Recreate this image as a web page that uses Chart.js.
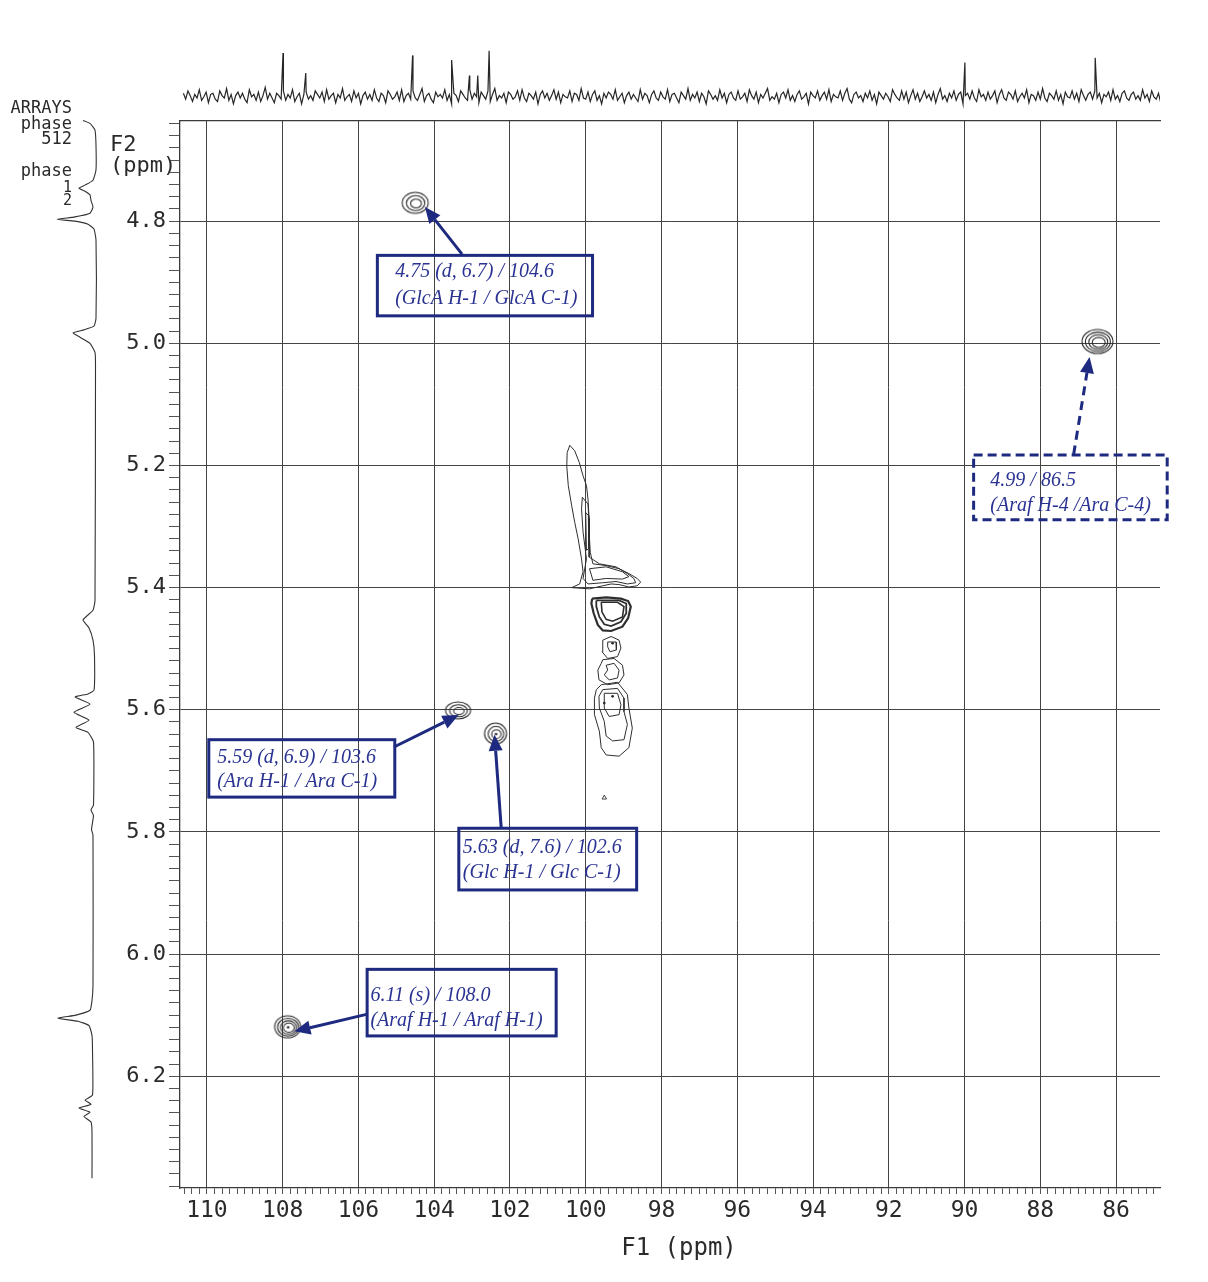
<!DOCTYPE html>
<html>
<head>
<meta charset="utf-8">
<script src="https://cdn.jsdelivr.net/npm/chart.js@4.4.1/dist/chart.umd.min.js"></script>
<style>
html,body{margin:0;padding:0;background:#ffffff;}
#wrap{position:relative;width:1208px;height:1282px;overflow:hidden;background:#ffffff;}
#wrap canvas{position:absolute;left:0;top:0;}
</style>
</head>
<body>
<div id="wrap">
<canvas id="mainChart" width="1208" height="1282"></canvas>
<canvas id="topTrace" width="1208" height="125"></canvas>
<canvas id="leftTrace" width="180" height="1282"></canvas>
</div>
<script>
// ---------------- DATA ----------------
// axis ranges (ppm)
const F1_MIN = 84.84, F1_MAX = 110.71;
const F2_MIN = 4.636, F2_MAX = 6.383;

// tick labels
const f1TickValues = [110,108,106,104,102,100,98,96,94,92,90,88,86];
const f1TickLabels = ['110','108','106','104','102','100','98','96','94','92','90','88','86'];
const f2TickValues = [4.8,5.0,5.2,5.4,5.6,5.8,6.0,6.2];
const f2TickLabels = ['4.8','5.0','5.2','5.4','5.6','5.8','6.0','6.2'];

// isolated cross peaks (F1 13C ppm, F2 1H ppm)
const peakNames = ['GlcA H-1/C-1','Araf H-4/C-4','Ara H-1/C-1','Glc H-1/C-1','Araf H-1'];
const peakF1 = [104.50, 86.49, 103.37, 102.38, 107.87];
const peakF2 = [4.770, 4.997, 5.601, 5.639, 6.119];

// contours of the cluster near 99-100 ppm  [F1, F2]
const streakOuter = [[100.42,5.167],[100.29,5.176],[100.17,5.195],[100.07,5.217],[99.98,5.233],[99.94,5.255],[99.91,5.287],[99.90,5.320],[99.88,5.342],[99.81,5.361],[99.46,5.364],[99.12,5.369],[98.86,5.377],[98.64,5.385],[98.55,5.391],[98.64,5.397],[98.86,5.399],[99.12,5.395],[99.33,5.394],[99.55,5.397],[99.90,5.402],[100.37,5.400],[100.16,5.394],[100.07,5.374],[100.11,5.353],[100.20,5.320],[100.29,5.293],[100.37,5.266],[100.46,5.233],[100.50,5.201],[100.49,5.179],[100.42,5.167]];
const streakMid = [[100.09,5.252],[99.94,5.263],[99.90,5.309],[99.91,5.350],[99.64,5.361],[99.20,5.366],[98.90,5.377],[98.73,5.385],[98.68,5.392],[98.90,5.394],[99.20,5.390],[99.55,5.392],[99.94,5.394],[100.07,5.385],[99.98,5.353],[100.07,5.309],[100.11,5.271],[100.09,5.252]];
const baseLoop = [[99.90,5.369],[99.46,5.366],[99.03,5.374],[98.86,5.382],[99.03,5.386],[99.46,5.385],[99.81,5.388],[99.90,5.369]];
const streakInner = [[100.00,5.277],[99.93,5.282],[99.92,5.336],[99.98,5.339],[100.00,5.277]];
const blockOuter = [[99.83,5.418],[99.46,5.416],[99.07,5.418],[98.88,5.422],[98.81,5.431],[98.88,5.450],[99.03,5.464],[99.33,5.471],[99.55,5.470],[99.68,5.461],[99.79,5.442],[99.85,5.426],[99.83,5.418]];
const blockMid = [[99.72,5.421],[99.12,5.421],[98.93,5.426],[98.93,5.442],[99.07,5.456],[99.33,5.463],[99.51,5.460],[99.64,5.448],[99.72,5.431],[99.72,5.421]];
const blockInner = [[99.59,5.424],[99.16,5.424],[98.99,5.431],[99.03,5.448],[99.29,5.455],[99.46,5.452],[99.57,5.440],[99.59,5.424]];
const spotAOuter = [[99.55,5.486],[99.33,5.480],[99.12,5.486],[99.07,5.499],[99.16,5.513],[99.42,5.516],[99.57,5.505],[99.55,5.486]];
const spotAInner = [[99.42,5.489],[99.20,5.489],[99.19,5.502],[99.36,5.505],[99.42,5.497],[99.42,5.489]];
const spotBOuter = [[99.55,5.518],[99.25,5.516],[99.03,5.527],[98.99,5.543],[99.12,5.556],[99.42,5.559],[99.65,5.551],[99.68,5.535],[99.59,5.524],[99.55,5.518]];
const spotBInner = [[99.46,5.527],[99.25,5.524],[99.12,5.535],[99.16,5.548],[99.38,5.551],[99.51,5.543],[99.42,5.535],[99.46,5.527]];
const spotCOuter = [[99.59,5.559],[99.16,5.555],[98.90,5.575],[98.86,5.597],[98.77,5.630],[98.86,5.662],[99.12,5.676],[99.46,5.674],[99.59,5.662],[99.64,5.635],[99.77,5.608],[99.77,5.581],[99.72,5.567],[99.59,5.559]];
const spotCMid = [[99.55,5.567],[99.16,5.565],[98.99,5.581],[98.99,5.603],[98.90,5.624],[98.99,5.649],[99.29,5.651],[99.46,5.643],[99.51,5.619],[99.64,5.597],[99.65,5.578],[99.55,5.567]];
const spotCInner = [[99.51,5.573],[99.16,5.573],[99.07,5.592],[99.12,5.608],[99.38,5.611],[99.51,5.597],[99.51,5.573]];
const clusterDotF1 = [99.29, 99.29, 99.51];
const clusterDotF2 = [5.491, 5.578, 5.589];
const smallSpotF1 = [99.51];
const smallSpotF2 = [5.744];

// top projection (13C trace): noise samples from 110.62 ppm every 0.06 ppm, plus sharp peaks
const TOP_START = 110.62, TOP_STEP = 0.06;
const topNoise = [
 3,-2,5,1,-4,2,-1,6,-3,0,4,-5,2,3,-2,-4,5,1,-1,7,
 -3,2,-6,1,4,-1,3,-2,-5,6,0,2,-3,4,-4,1,8,-2,3,-1,
 -5,3,1,-2,5,-3,2,-1,6,-4,0,3,-6,2,4,-2,1,-3,5,2,
 -1,4,-4,6,-2,1,3,-5,2,-1,7,-3,0,2,-4,5,-1,3,-6,1,
 4,-2,2,-3,6,-1,-4,3,1,-5,5,2,-2,0,4,-3,6,-4,1,3,
 -2,5,-1,-3,2,7,-4,1,3,-2,-5,4,0,2,-1,6,-3,2,-6,3,
 1,-4,5,2,-1,-3,6,-2,3,0,-5,4,1,-2,5,-4,2,7,-3,1,
 -1,3,-5,4,2,-2,0,5,-3,6,-1,-4,3,1,-2,4,-6,2,5,-1,
 3,-3,1,6,-2,4,-5,2,0,-1,5,-4,3,2,-3,7,-1,-2,4,-4,
 2,5,-3,1,-6,3,-1,4,2,-2,6,-3,0,3,-5,1,4,-2,2,-1,
 -4,6,-2,3,1,-5,2,5,-1,-3,4,0,-2,6,-4,2,3,-1,-5,4,
 1,-2,7,-3,2,-1,4,-4,3,0,-6,5,2,-2,1,-3,6,-1,3,-5,
 2,4,-1,-3,5,-2,0,3,-4,6,1,-2,4,-5,2,-1,3,7,-3,0,
 -2,3,-5,2,4,-1,6,-3,1,-4,2,5,-2,0,3,-6,4,1,-1,5,
 -3,1,4,-2,6,-4,2,0,-1,5,-3,3,7,-2,-5,2,4,-1,1,-4,
 3,-1,5,-3,2,-6,4,1,-2,3,0,-4,6,2,-1,-3,5,-2,4,-5,
 1,6,-2,3,-4,0,5,-1,2,-3,4,-5,2,7,-2,1,-4,3,-1,5,
 -3,2,4,-6,1,3,-2,5,-1,-4,6,0,2,-3,4,-2,1,5,-5,2,
 6,-1,-3,4,2,-2,5,-4,0,3,-1,6,-5,2,1,-3,4,-2,7,-1,
 -4,3,1,-2,5,-3,2,-6,4,0,-1,5,-2,3,-4,6,1,-3,2,4,
 -2,5,-1,3,-5,2,0,4,-3,6,-2,1,-4,3,5,-1,-3,2,4,-2,
 1,-3,6,-1,2,-4,5,0,-2,3,-5,4,2,-1,6,-3,1,-2,3,-1
];
const topPeakF1 = [107.99, 107.39, 104.57, 103.54, 103.07, 102.85, 102.55, 89.99, 86.55];
const topPeakHeight = [37, 20, 35, 31, 18, 18, 39, 29, 33];

// left projection (1H trace): F2 ppm and intensity
const leftTraceF2 = [4.635,4.640,4.651,4.676,4.716,4.733,4.741,4.746,4.751,4.757,4.766,4.777,4.787,4.793,4.797,4.800,4.805,4.813,4.831,
 4.959,4.972,4.978,4.983,4.990,5.000,5.015,5.036,
 5.421,5.437,5.453,5.466,5.486,5.511,
 5.568,5.574,5.579,5.591,5.604,5.617,5.629,5.637,5.653,
 5.756,5.764,5.773,5.796,5.805,
 6.051,6.076,6.092,6.100,6.105,6.110,6.117,6.133,6.157,
 6.231,6.239,6.246,6.252,6.259,6.266,6.275,6.291,6.367];
const leftTraceInt = [12,5,0,-1,-1,2,10,16,10,5,4,2,5,20,38,20,7,1,-1,
 -1,1,11,22,15,5,0,-0.5,
 0,2,12,6,2,0.5,
 1,7,20,5,21,6,19,7,1.5,
 1.5,4,1.5,3.5,2,
 2,3,5,19,37,17,6,3,2.5,
 2.5,10,4,16,5,11,4,3,3];

// annotation texts
const annotLine1 = ['4.75 (d, 6.7) / 104.6','4.99 / 86.5','5.59 (d, 6.9) / 103.6','5.63 (d, 7.6) / 102.6','6.11 (s) / 108.0'];
const annotLine2 = ['(GlcA H-1 / GlcA C-1)','(Araf H-4 /Ara C-4)','(Ara H-1 / Ara C-1)','(Glc H-1 / Glc C-1)','(Araf H-1 / Araf H-1)'];

// ---------------- STYLE / LAYOUT ----------------
const GRID = '#444444';
const INK = '#2a2a2a';
const NAVY = '#1d2a80';
const NAVY_TEXT = '#2a3392';
const MONO = "'DejaVu Sans Mono', monospace";

// contour glyph sizes for isolated peaks (px)
const peakGlyphW = [26, 31, 25, 22, 26];
const peakGlyphH = [21, 24, 17, 21, 22];
const peakGlyphRings = [3, 4, 3, 3, 4];
const peakGlyphDot = [false, false, false, true, true];

// annotation geometry (ppm coordinates) and text offsets (px)
const annotGeom = [
 {box:[105.50,4.856,99.82,4.955], tx:17.8, ty1:21.7, ty2:48.4, from:[103.265,4.854], to:[104.244,4.777], dashed:false},
 {box:[89.76,5.183,84.65,5.289], tx:16.7, ty1:31.0, ty2:55.7, from:[87.12,5.182], to:[86.70,5.0225], dashed:true},
 {box:[109.95,5.649,105.04,5.743], tx:8.4, ty1:23.3, ty2:47.3, from:[105.06,5.661], to:[103.355,5.6086], dashed:false},
 {box:[103.35,5.794,98.655,5.895], tx:4.0, ty1:25.0, ty2:49.3, from:[102.232,5.7926], to:[102.407,5.641], dashed:false},
 {box:[105.77,6.025,100.78,6.134], tx:3.3, ty1:31.3, ty2:56.3, from:[105.76,6.0983], to:[107.69,6.1265], dashed:false}
];

function contourGlyph(w, h, rings, dot) {
  const c = document.createElement('canvas');
  c.width = w + 4; c.height = h + 4;
  const g = c.getContext('2d');
  g.strokeStyle = '#262626';
  g.lineWidth = 1.05;
  const cx = c.width / 2, cy = c.height / 2;
  for (let i = 0; i < rings; i++) {
    const f = 1 - i * 0.58 / Math.max(1, rings - 1);
    g.beginPath();
    g.ellipse(cx + i * 0.4, cy + i * 0.3, (w / 2) * f, (h / 2) * f, 0, 0, Math.PI * 2);
    g.stroke();
  }
  if (dot) {
    g.fillStyle = '#222';
    g.beginPath(); g.arc(cx + 0.5, cy + 0.5, 1.3, 0, Math.PI * 2); g.fill();
  }
  return c;
}
const peakGlyphs = peakF1.map((_, i) => contourGlyph(peakGlyphW[i], peakGlyphH[i], peakGlyphRings[i], peakGlyphDot[i]));

function findTick(values, v) {
  return values.findIndex(t => Math.abs(t - v) < 1e-6);
}
// tick positions: every 0.2 ppm on F1, every 0.02 ppm on F2 (major ones get grid lines + labels)
function buildF1Ticks(s) {
  const t = [];
  for (let k = Math.ceil(F1_MIN * 5); k <= Math.floor(F1_MAX * 5); k++) t.push({value: k / 5});
  s.ticks = t;
}
function buildF2Ticks(s) {
  const t = [];
  for (let k = Math.ceil(F2_MIN * 50); k <= Math.floor(F2_MAX * 50); k++) t.push({value: k / 50});
  s.ticks = t;
}

// ---------------- MAIN 2D CHART ----------------
const contourSets = [streakOuter, streakMid, baseLoop, streakInner, blockOuter, blockMid, blockInner,
  spotAOuter, spotAInner, spotBOuter, spotBInner, spotCOuter, spotCMid, spotCInner];
const contourWidths = [1, 1, 1, 1, 2.2, 1.8, 1.6, 1, 1, 1, 1, 1, 1, 1];

const datasets = contourSets.map((c, i) => ({
  label: 'contour' + i,
  data: c.map(p => ({x: p[0], y: p[1]})),
  showLine: true, pointRadius: 0, borderColor: '#2e2e2e', borderWidth: contourWidths[i],
  fill: false, tension: 0
}));
datasets.push({
  label: 'cross peaks',
  data: peakF1.map((x, i) => ({x: x, y: peakF2[i]})),
  pointStyle: ctx => peakGlyphs[ctx.dataIndex],
  pointRadius: 5, showLine: false
});
datasets.push({
  label: 'contour centres',
  data: clusterDotF1.map((x, i) => ({x: x, y: clusterDotF2[i]})),
  pointStyle: 'circle', pointRadius: 1.3, backgroundColor: '#222', borderColor: '#222', borderWidth: 0, showLine: false
});
datasets.push({
  label: 'small spot',
  data: smallSpotF1.map((x, i) => ({x: x, y: smallSpotF2[i]})),
  pointStyle: 'triangle', pointRadius: 2.6, backgroundColor: 'rgba(0,0,0,0)', borderColor: '#444', borderWidth: 1, showLine: false
});

const annotationPlugin = {
  id: 'nmrAnnotations',
  afterDatasetsDraw(chart) {
    const {ctx} = chart;
    const xs = chart.scales.x, ys = chart.scales.y;
    ctx.save();
    annotGeom.forEach((a, i) => {
      const x1 = xs.getPixelForValue(a.box[0]), y1 = ys.getPixelForValue(a.box[1]);
      const x2 = xs.getPixelForValue(a.box[2]), y2 = ys.getPixelForValue(a.box[3]);
      ctx.strokeStyle = NAVY; ctx.fillStyle = NAVY;
      ctx.lineWidth = 3;
      ctx.setLineDash(a.dashed ? [9, 5] : []);
      ctx.strokeRect(x1, y1, x2 - x1, y2 - y1);
      const fx = xs.getPixelForValue(a.from[0]), fy = ys.getPixelForValue(a.from[1]);
      const tx = xs.getPixelForValue(a.to[0]), ty = ys.getPixelForValue(a.to[1]);
      const ang = Math.atan2(ty - fy, tx - fx);
      const L = 16, W = 7;
      const bx = tx - L * Math.cos(ang), by = ty - L * Math.sin(ang);
      ctx.setLineDash(a.dashed ? [9, 6] : []);
      ctx.beginPath(); ctx.moveTo(fx, fy); ctx.lineTo(bx, by); ctx.stroke();
      ctx.setLineDash([]);
      ctx.beginPath();
      ctx.moveTo(tx, ty);
      ctx.lineTo(bx + W * Math.sin(ang), by - W * Math.cos(ang));
      ctx.lineTo(bx - W * Math.sin(ang), by + W * Math.cos(ang));
      ctx.closePath(); ctx.fill();
      ctx.fillStyle = NAVY_TEXT;
      ctx.font = "italic 20px 'Liberation Serif', 'Times New Roman', serif";
      ctx.textAlign = 'left'; ctx.textBaseline = 'alphabetic';
      ctx.fillText(annotLine1[i], x1 + a.tx, y1 + a.ty1);
      ctx.fillText(annotLine2[i], x1 + a.tx, y1 + a.ty2);
    });
    ctx.restore();
  },
  afterDraw(chart) {
    const {ctx, chartArea} = chart;
    ctx.save();
    ctx.fillStyle = INK;
    ctx.textBaseline = 'middle';
    ctx.textAlign = 'right';
    ctx.font = '17px ' + MONO;
    ctx.fillText('ARRAYS', 72, 109);
    ctx.fillText('phase', 72, 125);
    ctx.fillText('512', 72, 140);
    ctx.fillText('phase', 72, 172);
    ctx.font = '15px ' + MONO;
    ctx.fillText('1', 72, 188);
    ctx.fillText('2', 72, 201);
    ctx.textAlign = 'left';
    ctx.font = '22px ' + MONO;
    ctx.fillText('F2', 110, 145);
    ctx.fillText('(ppm)', 110, 166);
    ctx.textAlign = 'center';
    ctx.font = '24px ' + MONO;
    ctx.fillText('F1 (ppm)', 679, chartArea.bottom + 61);
    ctx.restore();
  }
};

new Chart(document.getElementById('mainChart'), {
  type: 'scatter',
  data: {datasets: datasets},
  options: {
    responsive: false, animation: false, devicePixelRatio: 1,
    layout: {padding: {left: 0, top: 121, right: 48, bottom: 0}},
    plugins: {legend: {display: false}, tooltip: {enabled: false}},
    events: [],
    scales: {
      x: {
        type: 'linear', position: 'bottom', min: F1_MIN, max: F1_MAX, reverse: true,
        afterBuildTicks: buildF1Ticks,
        afterFit: s => { s.height = 94; },
        ticks: {
          autoSkip: false, maxRotation: 0, minRotation: 0, padding: 3,
          color: INK, font: {family: MONO, size: 23},
          callback: v => { const i = findTick(f1TickValues, v); return i >= 0 ? f1TickLabels[i] : ''; }
        },
        grid: {
          color: c => (c.tick && findTick(f1TickValues, c.tick.value) >= 0) ? GRID : 'rgba(0,0,0,0)',
          tickColor: '#555', tickLength: 6, lineWidth: 1
        },
        border: {display: true, color: '#3a3a3a', width: 1.3}
      },
      x2: {
        type: 'linear', position: 'top', min: F1_MIN, max: F1_MAX, reverse: true,
        afterFit: s => { s.height = 0; },
        ticks: {display: false},
        grid: {display: false, drawTicks: false},
        border: {display: true, color: '#3a3a3a', width: 1.3}
      },
      y: {
        type: 'linear', position: 'left', min: F2_MIN, max: F2_MAX, reverse: true,
        afterBuildTicks: buildF2Ticks,
        afterFit: s => { s.width = 180; },
        ticks: {
          autoSkip: false, padding: 3,
          color: INK, font: {family: MONO, size: 22},
          callback: v => { const i = findTick(f2TickValues, v); return i >= 0 ? f2TickLabels[i] : ''; }
        },
        grid: {
          color: c => (c.tick && findTick(f2TickValues, c.tick.value) >= 0) ? GRID : 'rgba(0,0,0,0)',
          tickColor: '#555', tickLength: 11, lineWidth: 1
        },
        border: {display: true, color: '#3a3a3a', width: 1.3}
      }
    }
  },
  plugins: [annotationPlugin]
});

// ---------------- TOP 1D TRACE ----------------
const topPoints = topNoise.map((v, i) => ({x: TOP_START - i * TOP_STEP, y: v}));
topPeakF1.forEach((p, k) => topPoints.push({x: p, y: topPeakHeight[k]}));
topPoints.sort((a, b) => b.x - a.x);

new Chart(document.getElementById('topTrace'), {
  type: 'scatter',
  data: {datasets: [{data: topPoints, showLine: true, pointRadius: 0, borderColor: '#262626', borderWidth: 1.2, tension: 0}]},
  options: {
    responsive: false, animation: false, devicePixelRatio: 1, events: [],
    layout: {padding: {left: 180, right: 48, top: 40, bottom: 14}},
    plugins: {legend: {display: false}, tooltip: {enabled: false}},
    scales: {
      x: {type: 'linear', display: false, min: F1_MIN, max: F1_MAX, reverse: true},
      y: {type: 'linear', display: false, min: -12, max: 48}
    }
  }
});

// ---------------- LEFT 1D TRACE ----------------
new Chart(document.getElementById('leftTrace'), {
  type: 'scatter',
  data: {datasets: [{data: leftTraceF2.map((f, i) => ({x: leftTraceInt[i], y: f})), showLine: true, pointRadius: 0,
    borderColor: '#333333', borderWidth: 1.1, tension: 0.15, clip: false}]},
  options: {
    responsive: false, animation: false, devicePixelRatio: 1, events: [],
    layout: {padding: {left: 30, right: 80, top: 121, bottom: 94}},
    plugins: {legend: {display: false}, tooltip: {enabled: false}},
    scales: {
      x: {type: 'linear', display: false, min: -5, max: 65, reverse: true},
      y: {type: 'linear', display: false, min: F2_MIN, max: F2_MAX, reverse: true}
    }
  }
});
</script>
</body>
</html>
